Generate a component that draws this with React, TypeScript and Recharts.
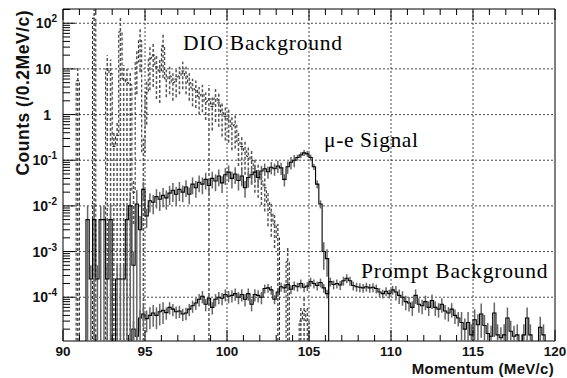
import { ComposedChart, Line, XAxis, YAxis, ReferenceLine, ReferenceArea, ErrorBar } from "recharts";

// binning of the histograms (0.2 MeV/c per bin)
const X_MIN = 90;
const X_MAX = 120;
const BIN_WIDTH = 0.2;
const N_BINS = 150;

const Y_MIN = 1.1e-5;
const Y_MAX = 205;
const FLOOR = 1e-7; // empty bins are pushed below the frame

// DIO background (dashed), first bin index 4 (90.8 MeV/c)
const DIO_FIRST_BIN = 4;
const DIO = [
  5.5, 0, 0, 0, 0, 130, 0, 0, 0, 10,
  8, 0.2, 0.35, 65, 6, 5, 4.5, 0.02, 14, 42,
  0.15, 3, 17, 20, 11, 9, 32, 6, 7, 5,
  6, 7, 9, 7, 5, 3.8, 3.5, 2.5, 2.8, 1.9,
  2.2, 1.5, 2.3, 1.8, 1.1, 0.9, 0.8, 0.55, 0.6, 0.25,
  0.2, 0.16, 0.12, 0.1, 0.065, 0.05, 0.035, 0.025, 0.012, 0.007,
  0.004, 0.002, 0, 0, 0.0006, 0, 0, 0, 0.00003, 0.00005,
  0.00003,
];

// mu-e signal (solid), first bin index 7 (91.4 MeV/c)
const SIGNAL_FIRST_BIN = 7;
const SIGNAL = [
  5e-3, 2.5e-4, 5e-3, 2.5e-4, 5e-3, 5e-3, 2.5e-4, 5e-3, 0, 2.5e-4,
  2.5e-4, 2.5e-4, 5e-3, 1e-2, 5e-4, 1.1e-2, 3e-3, 2.3e-2, 6e-3, 1.3e-2,
  1.2e-2, 1.6e-2, 1.4e-2, 1.7e-2, 1.5e-2, 1.9e-2, 2.2e-2, 1.8e-2, 2.3e-2, 2e-2,
  2.6e-2, 1.8e-2, 3e-2, 2.5e-2, 3.3e-2, 3e-2, 3.8e-2, 2.8e-2, 4e-2, 3.5e-2,
  4.5e-2, 3.2e-2, 4.8e-2, 5.5e-2, 4e-2, 5e-2, 3.6e-2, 4.5e-2, 2.5e-2, 4.2e-2,
  4.8e-2, 5.5e-2, 4.2e-2, 5.8e-2, 6.5e-2, 5.6e-2, 7e-2, 6.5e-2, 7.5e-2, 6.8e-2,
  3.8e-2, 7.2e-2, 9e-2, 0.1, 0.115, 0.13, 0.145, 0.138, 0.115, 0.072,
  0.03, 0.011, 1e-3, 7e-4,
];

// prompt background (solid), first bin index 21 (94.2 MeV/c)
const PROMPT_FIRST_BIN = 21;
const PROMPT = [
  2e-5, 1.4e-5, 3.5e-5, 4.3e-5, 3.4e-5, 4e-5, 4.5e-5, 4e-5, 4.8e-5, 5.2e-5,
  4.6e-5, 6e-5, 5.5e-5, 4.8e-5, 5e-5, 4.3e-5, 4.5e-5, 5.5e-5, 6.5e-5, 7.5e-5,
  9e-5, 1.05e-4, 7e-5, 9.5e-5, 6e-5, 9e-5, 1e-4, 9.5e-5, 1.15e-4, 1.05e-4,
  1.1e-4, 1.2e-4, 1e-4, 1.15e-4, 9e-5, 1.2e-4, 7e-5, 1.15e-4, 1.1e-4, 1e-4,
  1.55e-4, 1.6e-4, 1.45e-4, 9e-5, 1.3e-4, 1.7e-4, 1.6e-4, 1.9e-4, 1.5e-4, 1.8e-4,
  1.7e-4, 2e-4, 1.65e-4, 1.75e-4, 2.2e-4, 2e-4, 1.8e-4, 2.1e-4, 1.6e-4, 1.2e-4,
  2.2e-4, 1.9e-4, 2e-4, 1.85e-4, 2.3e-4, 2.6e-4, 2.3e-4, 1.8e-4, 1.7e-4, 1.65e-4,
  1.6e-4, 1.7e-4, 1.6e-4, 1.65e-4, 1.55e-4, 1.3e-4, 1.2e-4, 1.35e-4, 1.2e-4, 1.45e-4,
  1.3e-4, 1.1e-4, 1e-4, 8e-5, 7.5e-5, 6e-5, 1.1e-4, 7e-5, 6.5e-5, 8e-5,
  6e-5, 8.5e-5, 6e-5, 5.5e-5, 7e-5, 5e-5, 4.5e-5, 5.5e-5, 4e-5, 3.5e-5,
  2.8e-5, 2e-5, 2.8e-5, 1.5e-5, 3.2e-5, 2.5e-5, 4.3e-5, 2.4e-5, 1.6e-5, 1.4e-5,
  4.5e-5, 1.5e-5, 1.3e-5, 1.5e-5, 3.5e-5, 1.8e-5, 1.4e-5, 1.5e-5, 0, 1.5e-5,
  3.5e-5, 1.5e-5, 0, 0, 2.2e-5, 1.5e-5,
];

// relative errors, by momentum range [from, to, rel]
const DIO_ERR = [
  [90.8, 94.2, 1.0],
  [94.2, 94.8, 0.8],
  [94.8, 95.0, 1.0],
  [95.0, 96.2, 0.8],
  [96.2, 98.8, 0.6],
  [98.8, 99.0, 1.0],
  [99.0, 103.0, 0.7],
  [103.0, 105.2, 1.0],
];
const SIGNAL_ERR = [
  [91.4, 94.8, 1.0],
  [94.8, 97.2, 0.45],
  [97.2, 102.0, 0.4],
  [102.0, 104.2, 0.3],
  [104.2, 105.4, 0.15],
  [105.4, 105.8, 0.2],
  [105.8, 106.2, 0.6],
];
const PROMPT_ERR = [
  [94.2, 96.2, 0.5],
  [96.2, 102.2, 0.3],
  [102.2, 110.2, 0.22],
  [110.2, 114.2, 0.35],
  [114.2, 119.6, 0.7],
];

const X_TICKS = [
  90, 91, 92, 93, 94, 95, 96, 97, 98, 99, 100, 101, 102, 103, 104, 105,
  106, 107, 108, 109, 110, 111, 112, 113, 114, 115, 116, 117, 118, 119, 120,
];
const X_GRID = [95, 100, 105, 110, 115];
const Y_DECADES = [1e-5, 1e-4, 1e-3, 1e-2, 1e-1, 1, 10, 100];
const Y_MINOR = [2, 3, 4, 5, 6, 7, 8, 9];
const Y_TICKS = Y_DECADES.flatMap((d) => [d, ...Y_MINOR.map((k) => d * k)]).filter(
  (v) => v >= Y_MIN && v <= Y_MAX
);
const Y_GRID = [1e-4, 1e-3, 1e-2, 1e-1, 1, 10, 100];

// layout
const W = 567;
const H = 378;
const MARGIN = { top: 9, right: 12, bottom: 0, left: 0 };
const Y_AXIS_W = 63;
const X_AXIS_H = 37;
const PLOT_H = H - MARGIN.top - X_AXIS_H;

const SANS = "'Liberation Sans', Arial, Helvetica, sans-serif";
const SERIF = "'Liberation Serif', 'Times New Roman', serif";

function relErr(bands: number[][], m: number) {
  for (const [a, b, r] of bands) if (m > a - 1e-6 && m < b - 1e-6) return r;
  return 0.3;
}

function cell(values: number[], first: number, bands: number[][], i: number, m: number) {
  const v = values[i - first];
  if (v === undefined || v <= 0) return { v: FLOOR, e: undefined };
  const r = relErr(bands, m);
  const lo = Math.max(v * (1 - r), Y_MIN);
  const hi = Math.min(v * (1 + r), Y_MAX);
  return { v, e: [v - lo, hi - v] };
}

const rows = Array.from({ length: N_BINS }, (_, i) => {
  const m = +(X_MIN + (i + 0.5) * BIN_WIDTH).toFixed(2);
  const d = cell(DIO, DIO_FIRST_BIN, DIO_ERR, i, m);
  const s = cell(SIGNAL, SIGNAL_FIRST_BIN, SIGNAL_ERR, i, m);
  const p = cell(PROMPT, PROMPT_FIRST_BIN, PROMPT_ERR, i, m);
  return { m, dio: d.v, dioErr: d.e, sig: s.v, sigErr: s.e, prm: p.v, prmErr: p.e };
});

function XTick(props: any) {
  const { x, y, payload } = props;
  const v = payload.value;
  const major = v % 5 === 0;
  const len = major ? 11 : 6;
  return (
    <g>
      <line x1={x} x2={x} y1={y} y2={y - len} stroke="#000" />
      <line x1={x} x2={x} y1={y - PLOT_H} y2={y - PLOT_H + len} stroke="#000" />
      {major && (
        <text x={x} y={y + 15} textAnchor="middle" fontFamily={SANS} fontWeight={700} fontSize={13.5} fill="#111">
          {v}
        </text>
      )}
    </g>
  );
}

function YTick(props: any) {
  const { x, y, payload } = props;
  const v = payload.value;
  const lg = Math.log10(v);
  const e = Math.round(lg);
  const major = Math.abs(lg - e) < 1e-6;
  const len = major ? 12 : 7;
  let label = null;
  if (major) {
    if (e === 0 || e === 1) {
      label = (
        <text x={x - 12} y={y + 5} textAnchor="end" fontFamily={SANS} fontWeight={700} fontSize={14} fill="#111">
          {e === 0 ? "1" : "10"}
        </text>
      );
    } else {
      label = (
        <text x={x - 6} y={y + 5} textAnchor="end" fontFamily={SANS} fontWeight={700} fontSize={14} fill="#111">
          10
          <tspan dy={-6} fontSize={10}>
            {e}
          </tspan>
        </text>
      );
    }
  }
  return (
    <g>
      <line x1={x} x2={x + len} y1={y} y2={y} stroke="#000" />
      {label}
    </g>
  );
}

export default function App() {
  return (
    <div style={{ position: "absolute", left: 0, top: 0, width: W, height: H, background: "#fff" }}>
      <ComposedChart width={W} height={H} data={rows} margin={MARGIN}>
        <XAxis
          dataKey="m"
          type="number"
          domain={[X_MIN, X_MAX]}
          ticks={X_TICKS}
          interval={0}
          allowDataOverflow
          height={X_AXIS_H}
          tickSize={0}
          tickMargin={0}
          axisLine={false}
          tickLine={false}
          tick={(p: any) => <XTick {...p} />}
        />
        <YAxis
          type="number"
          scale="log"
          domain={[Y_MIN, Y_MAX]}
          ticks={Y_TICKS}
          interval={0}
          allowDataOverflow
          width={Y_AXIS_W}
          tickSize={0}
          tickMargin={0}
          axisLine={false}
          tickLine={false}
          tick={(p: any) => <YTick {...p} />}
        />
        {X_GRID.map((g) => (
          <ReferenceLine key={"x" + g} x={g} stroke="#333" strokeWidth={0.9} strokeDasharray="2 2" />
        ))}
        {Y_GRID.map((g) => (
          <ReferenceLine key={"y" + g} y={g} stroke="#333" strokeWidth={0.9} strokeDasharray="2 2" />
        ))}
        <Line
          dataKey="dio"
          type="step"
          stroke="#222"
          strokeWidth={1}
          strokeDasharray="3 2"
          dot={false}
          isAnimationActive={false}
        >
          <ErrorBar dataKey="dioErr" direction="y" width={0} stroke="#555" strokeDasharray="3 2" />
        </Line>
        <Line dataKey="prm" type="step" stroke="#000" strokeWidth={1.1} dot={false} isAnimationActive={false}>
          <ErrorBar dataKey="prmErr" direction="y" width={0} stroke="#666" />
        </Line>
        <Line dataKey="sig" type="step" stroke="#000" strokeWidth={1.1} dot={false} isAnimationActive={false}>
          <ErrorBar dataKey="sigErr" direction="y" width={0} stroke="#666" />
        </Line>
        <ReferenceArea x1={X_MIN} x2={X_MAX} y1={Y_MIN} y2={Y_MAX} fill="none" stroke="#000" strokeWidth={1} />
      </ComposedChart>
      <svg width={W} height={H} style={{ position: "absolute", left: 0, top: 0, pointerEvents: "none" }}>
        <text
          x={29}
          y={10}
          transform="rotate(-90 29 10)"
          textAnchor="end"
          fontFamily={SANS}
          fontWeight={700}
          fontSize={17.5}
          letterSpacing={0.5}
          fill="#111"
        >
          Counts (/0.2MeV/c)
        </text>
        <text x={554} y={374} textAnchor="end" fontFamily={SANS} fontWeight={700} fontSize={15} letterSpacing={0.3} fill="#111">
          Momentum (MeV/c)
        </text>
        <text x={183} y={50} fontFamily={SERIF} fontSize={21.5} letterSpacing={0.8} fill="#000">
          DIO Background
        </text>
        <text x={324} y={147} fontFamily={SERIF} fontSize={21.5} letterSpacing={0.6} fill="#000">
          μ-e Signal
        </text>
        <text x={361} y={278} fontFamily={SERIF} fontSize={21.5} letterSpacing={0.8} fill="#000">
          Prompt Background
        </text>
      </svg>
    </div>
  );
}
